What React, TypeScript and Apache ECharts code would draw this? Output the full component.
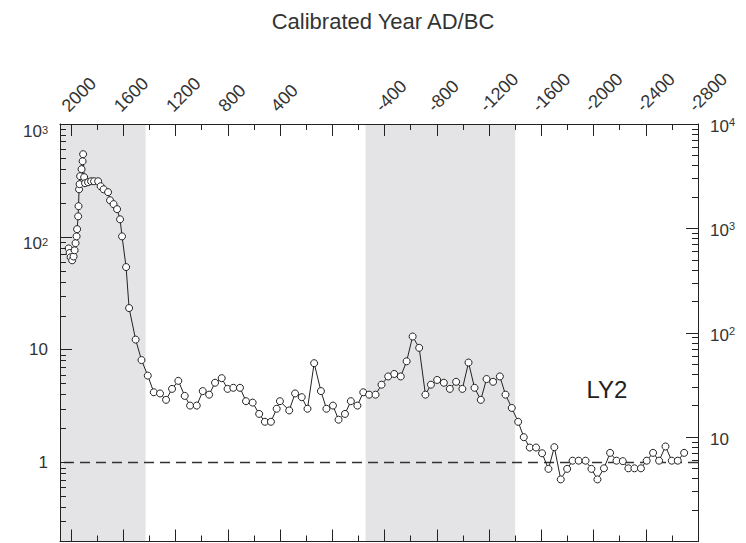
import React, { useEffect, useRef } from 'react';
import * as echarts from 'echarts';

// Calibrated age of each sample (year AD, negative = BC), core top first
const years = [
  2019, 2011, 2004, 1992, 1981, 1973, 1966, 1958, 1954, 1946,
  1943, 1939, 1935, 1931, 1920, 1912, 1908, 1900, 1893, 1870,
  1847, 1824, 1793, 1774, 1751, 1717, 1702, 1675, 1648, 1625,
  1610, 1579, 1556, 1506, 1461, 1413, 1367, 1319, 1273, 1227,
  1179, 1130, 1089, 1038, 992, 943, 898, 847, 802, 758,
  707, 661, 610, 560, 516, 470, 426, 401, 330, 285,
  234, 190, 139, 87, 45, -5, -48, -97, -142, -192,
  -237, -282, -331, -377, -428, -474, -524, -569, -615, -665,
  -713, -755, -803, -854, -900, -948, -996, -1043, -1089, -1137,
  -1181, -1231, -1283, -1326, -1374, -1423, -1466, -1512, -1560, -1606,
  -1655, -1700, -1749, -1798, -1840, -1886, -1939, -1984, -2030, -2080,
  -2127, -2176, -2224, -2267, -2313, -2363, -2407, -2456, -2502, -2551,
  -2599, -2645, -2694,
];

// Measured value of each sample (log scale, left axis)
const values = [
  79, 72, 66, 62, 67, 76, 88, 101, 117, 152,
  187, 264, 293, 345, 398, 468, 540, 338, 299, 305,
  311, 311, 311, 281, 264, 249, 211, 195, 176, 143,
  101, 54, 23.4, 12.3, 8.1, 5.9, 4.2, 4.1, 3.6, 4.5,
  5.3, 3.9, 3.2, 3.2, 4.3, 4.0, 5.1, 5.6, 4.5, 4.6,
  4.6, 3.5, 3.4, 2.7, 2.3, 2.3, 3.0, 3.5, 2.9, 4.1,
  3.8, 3.0, 7.6, 4.3, 3.0, 3.2, 2.4, 2.7, 3.5, 3.2,
  4.2, 4.0, 4.0, 4.9, 5.8, 6.1, 5.8, 7.9, 13.1, 10.4,
  4.0, 4.9, 5.4, 5.1, 4.5, 5.2, 4.5, 7.7, 4.6, 3.6,
  5.5, 5.2, 5.8, 4.0, 3.05, 2.3, 1.68, 1.36, 1.36, 1.21,
  0.88, 1.37, 0.71, 0.88, 1.04, 1.04, 1.04, 0.88, 0.71, 0.89,
  1.22, 1.04, 1.03, 0.89, 0.89, 0.89, 1.04, 1.22, 1.04, 1.39,
  1.04, 1.04, 1.22,
];

// Year axis: major ticks, labelled ticks and the minor ticks between them
const yearMajorTicks = [2000, 1600, 1200, 800, 400, 0, -400, -800, -1200, -1600, -2000, -2400, -2800];
const yearLabels = [2000, 1600, 1200, 800, 400, -400, -800, -1200, -1600, -2000, -2400, -2800];
const yearMinorTicks = [1800, 1400, 1000, 600, 200, -200, -600, -1000, -1400, -1800, -2200, -2600];
const yearRange = [-2800, 2085];

// Log axes: decade ticks, plain and superscript labels (left and right scales)
const leftDecades = [1, 10, 100, 1000];
const leftPlainLabels = [1, 10];
const leftPowerLabels = [100, 1000];
const rightDecades = [10, 100, 1000, 10000];
const leftRange = [0.2, 1000];
const rightRange = [1, 10000];

// Shaded periods [from, to] in years
const shadedPeriods = [
  [2085, 1430],
  [-255, -1400],
];

const referenceLevel = 1;
const siteName = 'LY2';
const axisTitle = 'Calibrated Year AD/BC';

const FONT = '"Liberation Sans", Arial, Helvetica, sans-serif';
const INK = '#333';

// 2..9 x 10^n between two decades, for the minor log ticks
function logMinorTicks(lo: number, hi: number): number[] {
  const out: number[] = [];
  for (let d = Math.floor(Math.log10(lo)); d < Math.ceil(Math.log10(hi)); d++) {
    for (let k = 2; k <= 9; k++) {
      const v = Number((k * Math.pow(10, d)).toPrecision(6));
      if (v > lo && v < hi) out.push(v);
    }
  }
  return out;
}

// "1", "10", then 10 with a superscript exponent
function decadeLabel(v: number): string {
  const e = Math.round(Math.log10(v));
  if (e === 0) return '{b|1}';
  if (e === 1) return '{b|10}';
  return '{b|10}{s|' + e + '}';
}

function richLabels(baseLine: number, supLine: number) {
  return {
    b: { fontSize: 17, color: INK, fontFamily: FONT, lineHeight: baseLine },
    s: { fontSize: 11, color: INK, fontFamily: FONT, lineHeight: supLine, verticalAlign: 'top' },
  };
}

export default function App() {
  const ref = useRef<HTMLDivElement>(null);

  useEffect(() => {
    const el = ref.current;
    if (!el) return;
    const chart = echarts.init(el, null, { renderer: 'svg' });

    const points = years.map((y, i) => [y, values[i]]);
    const lineStyle = { color: '#222', width: 1 };

    const xCommon = {
      type: 'value',
      min: yearRange[0],
      max: yearRange[1],
      inverse: true,
      splitLine: { show: false },
      z: 5,
    };
    const xAxes = [
      {
        ...xCommon,
        position: 'top',
        axisLine: { show: true, onZero: false, lineStyle },
        axisTick: { show: true, inside: true, length: 12, customValues: yearMajorTicks, lineStyle },
        axisLabel: {
          show: true,
          customValues: yearLabels,
          rotate: -45,
          margin: 9,
          verticalAlign: 'bottom',
          lineHeight: 18,
          fontSize: 18,
          color: INK,
          fontFamily: FONT,
          formatter: (v: number) => String(v),
        },
      },
      {
        ...xCommon,
        position: 'top',
        axisLine: { show: false, onZero: false },
        axisTick: { show: true, inside: true, length: 6, customValues: yearMinorTicks, lineStyle },
        axisLabel: { show: false },
      },
      {
        ...xCommon,
        position: 'bottom',
        axisLine: { show: true, onZero: false, lineStyle },
        axisTick: { show: true, inside: true, length: 12, customValues: yearMajorTicks, lineStyle },
        axisLabel: { show: false },
      },
      {
        ...xCommon,
        position: 'bottom',
        axisLine: { show: false, onZero: false },
        axisTick: { show: true, inside: true, length: 6, customValues: yearMinorTicks, lineStyle },
        axisLabel: { show: false },
      },
    ];

    const yCommon = { type: 'log', logBase: 10, splitLine: { show: false }, z: 5 };
    const yAxes = [
      {
        ...yCommon,
        min: leftRange[0],
        max: leftRange[1],
        position: 'left',
        axisLine: { show: true, onZero: false, lineStyle },
        axisTick: { show: true, inside: true, length: 12, customValues: leftDecades, lineStyle },
        axisLabel: {
          show: true,
          customValues: leftPlainLabels,
          margin: 12,
          formatter: decadeLabel,
          rich: richLabels(20, 11),
        },
      },
      {
        ...yCommon,
        min: leftRange[0],
        max: leftRange[1],
        position: 'left',
        axisLine: { show: false, onZero: false },
        axisTick: {
          show: true,
          inside: true,
          length: 6,
          customValues: logMinorTicks(leftRange[0], leftRange[1]),
          lineStyle,
        },
        axisLabel: {
          show: true,
          customValues: leftPowerLabels,
          margin: 12,
          verticalAlign: 'top',
          formatter: decadeLabel,
          rich: richLabels(14, 5),
        },
      },
      {
        ...yCommon,
        min: rightRange[0],
        max: rightRange[1],
        position: 'right',
        axisLine: { show: true, onZero: false, lineStyle },
        axisTick: { show: true, inside: true, length: 12, customValues: rightDecades, lineStyle },
        axisLabel: {
          show: true,
          customValues: rightDecades,
          margin: 12,
          padding: [5, 0, 0, 0],
          formatter: decadeLabel,
          rich: richLabels(20, 11),
        },
      },
      {
        ...yCommon,
        min: rightRange[0],
        max: rightRange[1],
        position: 'right',
        axisLine: { show: false, onZero: false },
        axisTick: {
          show: true,
          inside: true,
          length: 6,
          customValues: logMinorTicks(rightRange[0], rightRange[1]),
          lineStyle,
        },
        axisLabel: { show: false },
      },
    ];

    chart.setOption({
      animation: false,
      textStyle: { fontFamily: FONT },
      grid: { left: 60, right: 48, top: 124, bottom: 1.5 },
      xAxis: xAxes,
      yAxis: yAxes,
      graphic: [
        {
          type: 'text',
          x: 383,
          y: 21,
          style: {
            text: axisTitle,
            align: 'center',
            verticalAlign: 'middle',
            fontSize: 22,
            fontFamily: FONT,
            fill: INK,
          },
        },
        {
          type: 'text',
          x: 607,
          y: 389,
          z: 10,
          style: {
            text: siteName,
            align: 'center',
            verticalAlign: 'middle',
            fontSize: 24,
            fontFamily: FONT,
            fill: '#222',
          },
        },
      ],
      series: [
        {
          type: 'line',
          xAxisIndex: 0,
          yAxisIndex: 0,
          data: points,
          z: 3,
          symbol: 'circle',
          symbolSize: 7,
          showAllSymbol: true,
          lineStyle: { color: '#222', width: 1 },
          itemStyle: { color: '#fff', borderColor: '#222', borderWidth: 1 },
          markArea: {
            silent: true,
            z: 1,
            itemStyle: { color: '#e4e4e6' },
            data: shadedPeriods.map(([a, b]) => [{ xAxis: a }, { xAxis: b }]),
          },
          markLine: {
            silent: true,
            z: 2,
            symbol: ['none', 'none'],
            label: { show: false },
            lineStyle: { color: '#333', type: [10, 6], width: 1.3 },
            data: [{ yAxis: referenceLevel }],
          },
        },
      ],
    });

    return () => chart.dispose();
  }, []);

  return (
    <div
      ref={ref}
      style={{ position: 'fixed', left: 0, top: 0, width: 746, height: 543, background: '#fff' }}
    />
  );
}
